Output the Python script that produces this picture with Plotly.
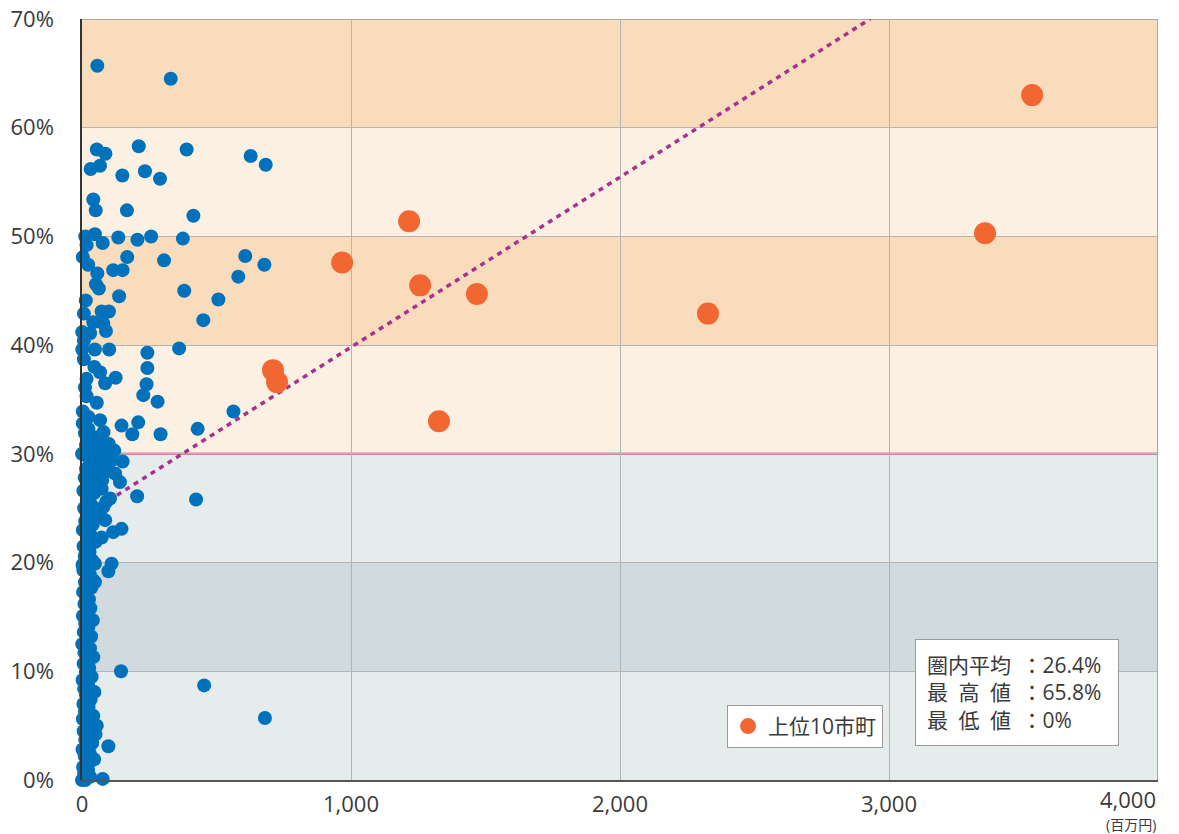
import plotly.graph_objects as go

# ---------------- data ----------------
blue_x = [
    57, 330,
    55, 87, 211, 389, 627, 683, 32, 67, 150, 234, 290,
    42, 51, 167, 414,
    12, 48, 17, 77, 135, 206, 257, 375,
    3, 23, 168, 305, 607, 678, 57, 116, 151, 581,
    52, 63, 380, 138, 507, 14,
    7, 73, 100, 451, 42, 79,
    1, 30, 89, 7,
    1, 48, 101, 361, 243, 7,
    46, 67, 243, 125, 17, 86, 240, 11, 228, 17, 281, 55,
    3, 563, 24, 67, 147, 209, 430, 3, 24, 187, 292, 11,
    35, 60, 90, 15, 50, 80, 120, 100,
    151, 123, 141, 73, 104, 205, 424, 79, 86, 147, 116, 73,
    0, 25, 55, 85, 110, 40, 70, 15, 95, 50, 10, 75, 30, 60, 5, 45, 20, 90, 35, 8,
    55, 25, 70, 12, 40, 3, 30, 18, 50, 6, 28, 10, 38, 2,
    48, 110, 98, 5, 11, 48, 41, 145, 454, 680, 98, 55, 30, 77,
    0, 12, 30, 8, 22, 4, 16, 45, 10, 28, 2, 20, 38, 12, 26, 50, 6, 34, 18, 3,
    42, 11, 24, 5, 32, 15, 46, 8, 22, 2, 36, 14, 27, 6, 19, 42, 9, 30, 1, 16,
    34, 7, 23, 12, 40, 3, 18, 31, 9, 26, 14, 4, 35, 20, 29,
]
blue_y = [
    65.7, 64.5,
    58.0, 57.6, 58.3, 58.0, 57.4, 56.6, 56.2, 56.5, 55.6, 56.0, 55.3,
    53.4, 52.4, 52.4, 51.9,
    50.0, 50.2, 49.2, 49.4, 49.9, 49.7, 50.0, 49.8,
    48.1, 47.4, 48.1, 47.8, 48.2, 47.4, 46.6, 46.9, 46.9, 46.3,
    45.6, 45.2, 45.0, 44.5, 44.2, 44.1,
    42.9, 43.1, 43.1, 42.3, 42.1, 42.0,
    41.2, 41.1, 41.3, 40.4,
    39.6, 39.6, 39.6, 39.7, 39.3, 38.7,
    38.0, 37.5, 37.9, 37.0, 36.9, 36.5, 36.4, 36.1, 35.4, 35.3, 34.8, 34.7,
    33.9, 33.9, 33.4, 33.1, 32.6, 32.9, 32.3, 32.8, 32.3, 31.8, 31.8, 31.9,
    30.5, 31.0, 30.6, 30.8, 31.5, 32.0, 30.3, 30.9,
    29.3, 28.2, 27.4, 26.8, 25.9, 26.1, 25.8, 25.1, 23.9, 23.1, 22.8, 22.3,
    30.0, 29.6, 29.9, 29.8, 29.4, 29.0, 28.8, 28.6, 28.4, 28.0, 27.8, 27.6, 27.2, 27.0, 26.6, 26.4, 26.0, 25.6, 25.3, 25.0,
    24.8, 24.4, 24.2, 23.8, 23.5, 23.0, 22.6, 22.2, 21.9, 21.5, 21.0, 20.6, 20.2, 19.8,
    19.9, 19.9, 19.2, 19.3, 18.2, 18.2, 18.4, 10.0, 8.7, 5.7, 3.1, 5.0, 1.7, 0.1,
    0.0, 0.0, 0.3, 0.6, 0.9, 1.2, 1.5, 1.9, 2.2, 2.5, 2.8, 3.0, 3.4, 3.7, 4.0, 4.2, 4.5, 4.9, 5.3, 5.6,
    5.9, 6.3, 6.7, 7.0, 7.4, 7.8, 8.1, 8.4, 8.8, 9.2, 9.5, 9.9, 10.3, 10.7, 11.0, 11.3, 11.7, 12.1, 12.5, 12.9,
    13.2, 13.6, 14.0, 14.4, 14.7, 15.1, 15.5, 15.8, 16.2, 16.6, 16.9, 17.3, 17.7, 19.5, 18.9,
]

top10_x = [3532, 3357, 1216, 967, 1257, 1468, 2327, 710, 725, 1327]
top10_y = [63.0, 50.3, 51.4, 47.6, 45.5, 44.7, 42.9, 37.7, 36.6, 33.0]
top10_name = "上位10市町"

trend_x = [130, 2930]
trend_y = [26.2, 70.0]

band_edges = [0, 10, 20, 30, 40, 50, 60, 70]
band_colors = ["#e6ebeb", "#d1dadc", "#e6ebeb", "#fcf0e3", "#f8dcbc", "#fcf0e3", "#f8dcbc"]
threshold_y = 30

x_tick_vals = [0, 1000, 2000, 3000, 4000]
x_tick_text = ["0", "1,000", "2,000", "3,000", "4,000"]
y_tick_vals = [0, 10, 20, 30, 40, 50, 60, 70]
y_tick_text = ["0%", "10%", "20%", "30%", "40%", "50%", "60%", "70%"]
x_unit = "(百万円)"

stats_labels = ["圏内平均", "最\u2002高\u2002値", "最\u2002低\u2002値"]
stats_values = ["26.4%", "65.8%", "0%"]

# ---------------- figure ----------------
FONT = "Open Sans, Noto Sans CJK JP, sans-serif"
TXT = "#3a3a3a"

fig = go.Figure()

fig.add_trace(go.Scatter(
    x=blue_x, y=blue_y, mode="markers", showlegend=False, cliponaxis=False,
    marker=dict(size=14, color="#0072bc", line=dict(width=0)),
    hoverinfo="x+y",
))
fig.add_trace(go.Scatter(
    x=trend_x, y=trend_y, mode="lines", showlegend=False,
    line=dict(color="#a8318f", width=3.5, dash="5px,5px"),
    hoverinfo="skip",
))
fig.add_trace(go.Scatter(
    x=top10_x, y=top10_y, mode="markers", name=top10_name, cliponaxis=False,
    marker=dict(size=22, color="#f26631", line=dict(width=0)),
))

shapes = []
for i, c in enumerate(band_colors):
    shapes.append(dict(type="rect", xref="x", yref="y", x0=x_tick_vals[0], x1=x_tick_vals[-1],
                       y0=band_edges[i], y1=band_edges[i + 1],
                       fillcolor=c, line=dict(width=0), layer="below"))
shapes.append(dict(type="line", xref="x", yref="y", x0=x_tick_vals[0], x1=x_tick_vals[-1],
                   y0=threshold_y, y1=threshold_y,
                   line=dict(color="#c58aa8", width=2.5), layer="below"))
# plot-area frame (top and right edges)
shapes.append(dict(type="line", xref="x", yref="y", x0=x_tick_vals[0], x1=x_tick_vals[-1],
                   y0=y_tick_vals[-1], y1=y_tick_vals[-1],
                   line=dict(color="#a8a8a8", width=2), layer="below"))
shapes.append(dict(type="line", xref="x", yref="y", x0=x_tick_vals[-1], x1=x_tick_vals[-1],
                   y0=y_tick_vals[0], y1=y_tick_vals[-1],
                   line=dict(color="#a8a8a8", width=2), layer="below"))

stats_text = "<br>".join(f"{l}\u2002：{v}" for l, v in zip(stats_labels, stats_values))

annotations = [
    dict(xref="x", yref="paper", x=x_tick_vals[-1], y=0, xanchor="right", yanchor="top",
         yshift=-2, text=x_tick_text[-1], showarrow=False,
         font=dict(family=FONT, size=22, color=TXT)),
    dict(xref="x", yref="paper", x=x_tick_vals[-1], y=0, xanchor="right", yanchor="top",
         yshift=-33, text=x_unit, showarrow=False,
         font=dict(family=FONT, size=14, color=TXT)),
    dict(xref="paper", yref="paper", x=0.869, y=0.1156, xanchor="center", yanchor="middle",
         text=stats_text, showarrow=False, align="left",
         bgcolor="white", bordercolor="#9a9a9a", borderwidth=1, borderpad=11,
         width=180, font=dict(family=FONT, size=21, color=TXT)),
]

fig.update_layout(
    width=1179, height=834,
    margin=dict(l=82, r=21, t=19, b=54),
    paper_bgcolor="white", plot_bgcolor="white",
    font=dict(family=FONT, size=21, color=TXT),
    shapes=shapes, annotations=annotations,
    showlegend=True,
    legend=dict(x=0.5995, y=0.0986, xanchor="left", yanchor="top",
                bgcolor="white", bordercolor="#9a9a9a", borderwidth=1,
                font=dict(family=FONT, size=21, color=TXT)),
    xaxis=dict(range=[0, 4000], tickvals=x_tick_vals[:-1], ticktext=x_tick_text[:-1],
               showgrid=True, gridcolor="#b4b4b4", gridwidth=1, zeroline=False,
               showline=True, linecolor="#555555", linewidth=2, automargin=False,
               ticks="outside", ticklen=4, tickcolor="rgba(0,0,0,0)",
               tickfont=dict(family=FONT, size=22, color=TXT)),
    yaxis=dict(range=[0, 70], tickvals=y_tick_vals, ticktext=y_tick_text,
               showgrid=True, gridcolor="#b4b4b4", gridwidth=1, zeroline=False,
               showline=True, linecolor="#333333", linewidth=1.5, automargin=False,
               ticks="outside", ticklen=22, tickcolor="rgba(0,0,0,0)",
               tickfont=dict(family=FONT, size=22, color=TXT)),
)

fig.write_html("out.html", config={"displayModeBar": False},
               post_script="document.body.style.margin='0';")
